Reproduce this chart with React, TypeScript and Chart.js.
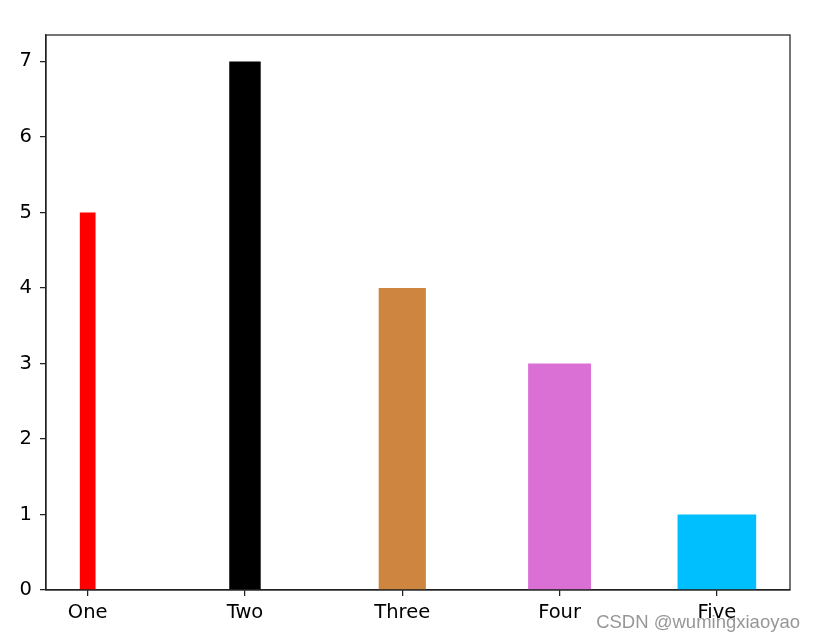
import React, { useEffect, useRef } from "react";
import { Chart, registerables } from "chart.js";

Chart.register(...registerables);

const categories = ["One", "Two", "Three", "Four", "Five"];
const values = [5, 7, 4, 3, 1];
const widths = [0.1, 0.2, 0.3, 0.4, 0.5];
const colors = ["#ff0000", "#000000", "#cd853f", "#da70d6", "#00bfff"];
const yTicks = [0, 1, 2, 3, 4, 5, 6, 7];
const watermark = "CSDN @wumingxiaoyao";

const W = 815;
const H = 641;
const AREA = { left: 46, right: 790, top: 35, bottom: 590 };

export default function App() {
  const ref = useRef<HTMLCanvasElement>(null);
  useEffect(() => {
    const canvas = ref.current!;
    const framePlugin = {
      id: "frame",
      afterDatasetsDraw(chart: any) {
        const { ctx, chartArea } = chart;
        ctx.save();
        ctx.strokeStyle = "#222";
        ctx.lineWidth = 1.25;
        ctx.strokeRect(chartArea.left, chartArea.top, chartArea.right - chartArea.left, chartArea.bottom - chartArea.top);
        ctx.restore();
      },
      afterDraw(chart: any) {
        const { ctx } = chart;
        ctx.save();
        ctx.font = "18.5px 'Liberation Sans', Arial, sans-serif";
        ctx.fillStyle = "rgba(140,140,140,0.9)";
        ctx.textAlign = "right";
        ctx.textBaseline = "alphabetic";
        ctx.fillText(watermark, 800, 628);
        ctx.restore();
      },
    };
    const chart = new Chart(canvas, {
      type: "bar",
      data: {
        datasets: categories.map((c, i) => ({
          label: c,
          data: [{ x: i, y: values[i] }],
          backgroundColor: colors[i],
          borderWidth: 0,
          barPercentage: widths[i],
          categoryPercentage: 1,
          grouped: false,
        })),
      },
      options: {
        animation: false,
        responsive: false,
        maintainAspectRatio: false,
        layout: { padding: { left: 0, top: AREA.top, right: W - AREA.right, bottom: 0 } },
        plugins: { legend: { display: false }, tooltip: { enabled: false } },
        scales: {
          x: {
            type: "linear",
            min: -0.265,
            max: 4.465,
            offset: false,
            afterBuildTicks: (s: any) => {
              s.ticks = categories.map((_, i) => ({ value: i }));
            },
            afterFit: (s: any) => {
              s.height = H - AREA.bottom;
            },
            ticks: {
              color: "#000",
              font: { family: "'DejaVu Sans'", size: 19.5 },
              padding: 5,
              maxRotation: 0,
              autoSkip: false,
              callback: (v: any) => categories[Math.round(Number(v))] ?? "",
            },
            grid: { display: true, offset: false, drawOnChartArea: false, drawTicks: true, tickLength: 6, color: "#222", lineWidth: 1.25 },
            border: { display: true, color: "#222", width: 1.25 },
          },
          y: {
            type: "linear",
            min: 0,
            max: 7.35,
            afterBuildTicks: (s: any) => {
              s.ticks = yTicks.map((v) => ({ value: v }));
            },
            afterFit: (s: any) => {
              s.width = AREA.left;
            },
            ticks: {
              color: "#000",
              font: { family: "'DejaVu Sans'", size: 19.5 },
              padding: 8,
              callback: (v: any) => String(v),
            },
            grid: { display: true, drawOnChartArea: false, drawTicks: true, tickLength: 6, color: "#222", lineWidth: 1.25 },
            border: { display: true, color: "#222", width: 1.25 },
          },
        },
      },
      plugins: [framePlugin],
    });
    return () => chart.destroy();
  }, []);
  return (
    <div style={{ position: "fixed", left: 0, top: 0, width: W, height: H, background: "#fff" }}>
      <canvas ref={ref} width={W} height={H} style={{ width: W, height: H, display: "block" }} />
    </div>
  );
}
